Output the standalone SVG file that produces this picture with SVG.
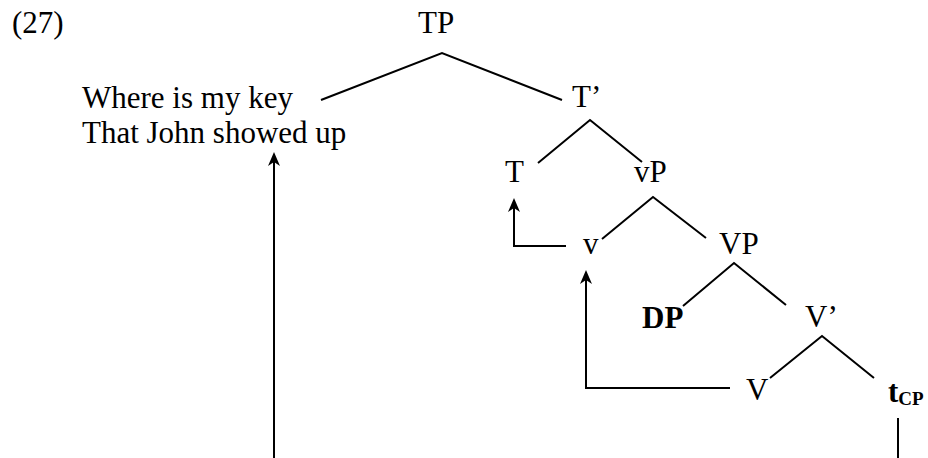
<svg xmlns="http://www.w3.org/2000/svg" width="928" height="458" viewBox="0 0 928 458">
<style>
text{font-family:"Liberation Serif","Times New Roman",serif;font-size:31px;fill:#000}
.b{font-weight:bold}
.edge{fill:none;stroke:#000;stroke-width:2}
.move{fill:none;stroke:#000;stroke-width:2;marker-end:url(#ah)}
</style>
<defs>
<marker id="ah" markerUnits="userSpaceOnUse" markerWidth="20" markerHeight="20" viewBox="-16 -8 20 16" refX="-3" refY="0" orient="auto">
<path d="M0,0 L-14,-6 L-10,0 L-14,6 Z" fill="#000"/>
</marker>
</defs>
<rect width="928" height="458" fill="#fff"/>
<g id="label"><text x="12" y="33">(27)</text></g>
<g id="TP"><text x="418" y="33">TP</text></g>
<g id="spec"><text x="82" y="108">Where is my key</text><text x="82" y="143">That John showed up</text></g>
<g id="Tbar"><text x="572" y="107">T’</text></g>
<g id="T"><text x="505" y="182">T</text></g>
<g id="vP"><text x="634" y="182">vP</text></g>
<g id="v"><text x="583" y="254">v</text></g>
<g id="VP"><text x="719" y="254">VP</text></g>
<g id="DP"><text class="b" x="642" y="328">DP</text></g>
<g id="Vbar"><text x="805" y="327">V’</text></g>
<g id="V"><text x="746" y="400">V</text></g>
<g id="tCP"><text class="b" x="888" y="402">t<tspan font-size="19" dy="3">CP</tspan></text></g>
<g id="connectors">
<polyline class="edge" points="321,100 442,53 562,100"/>
<polyline class="edge" points="538,163 590,120 642,162"/>
<polyline class="edge" points="602,239 653,197 706,238"/>
<polyline class="edge" points="683,306 734,263 786,305"/>
<polyline class="edge" points="770,378 822,336 874,378"/>
<polyline class="move" points="566,246 514,246 514,201"/>
<polyline class="move" points="730,388 586,388 586,273"/>
<line class="edge" x1="898" y1="418" x2="898" y2="460"/>
<line class="move" x1="274" y1="460" x2="274" y2="155"/>
</g>
</svg>
